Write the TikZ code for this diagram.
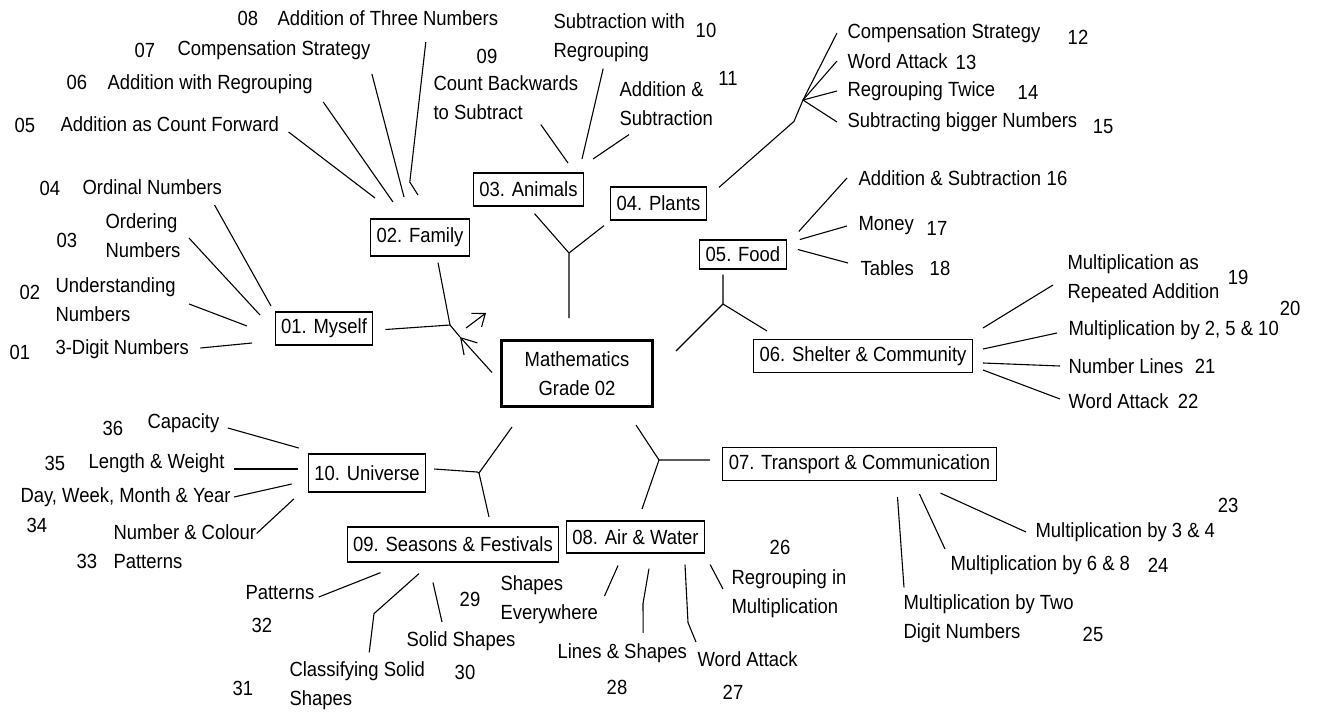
\documentclass[tikz,border=0pt]{standalone}
\usepackage{fontspec}
\setmainfont{Liberation Sans}[FakeStretch=0.9]
\usetikzlibrary{arrows.meta}

\begin{document}
\begin{tikzpicture}[x=1pt,y=-1pt,line width=1.1pt,
  every node/.style={font=\fontsize{20.5}{29}\selectfont},
  topic/.style={draw,line width=1.2pt,inner xsep=6pt,inner ysep=0pt,minimum height=33pt},
  leaf/.style={anchor=west,inner sep=0pt,align=left},
  num/.style={inner sep=0pt},
  barb/.style={-{Straight Barb[length=15pt,width=18pt]}}]
\useasboundingbox (0,0) rectangle (1318,713);

% centre and topics
\node[draw,line width=3pt,minimum width=151pt,minimum height=66pt,align=center] (math) at (577,373.5) {Mathematics\\Grade 02};
\node[topic] (m01) at (324,328.5) {01. Myself};
\node[topic,minimum height=37pt] (m02) at (420,237.5) {02. Family};
\node[topic] (m03) at (528.5,189.5) {03. Animals};
\node[topic] (m04) at (658.5,203.5) {04. Plants};
\node[topic,minimum height=29pt] (m05) at (743,254.5) {05. Food};
\node[topic] (m06) at (863,356) {06. Shelter \& Community};
\node[topic] (m07) at (859.5,464) {07. Transport \& Communication};
\node[topic,minimum height=32pt] (m08) at (635.5,537) {08. Air \& Water};
\node[topic,minimum height=35pt] (m09) at (453,544.5) {09. Seasons \& Festivals};
\node[topic,minimum height=38pt] (m10) at (367,473) {10. Universe};

% junctions
\coordinate (jfam) at (450,325);
\coordinate (jtip) at (460,337);
\coordinate (janim) at (569,253);
\coordinate (jplant) at (803,100);
\coordinate (jfood) at (723,304);
\coordinate (jtrans) at (659,460);
\coordinate (juni) at (479,473);

\draw (m01.east) ++(12,1) -- (jfam) -- (jtip);
\draw (m02.south) ++(18,6) -- (jfam);
\draw[barb] (math.west) ++(-8,-1) -- (jtip);
\draw[-{Straight Barb[length=11pt,width=17pt]}] (jfam) ++(16,3) -- ++(20,-15);
\draw (m03.south) ++(6,7) -- (janim) -- ++(0,65);
\draw (m04.south west) ++(-6,5) -- (janim);
\draw (m04.north east) ++(12,1) -- ++(75,-66) -- (jplant);
\draw (m05.south) ++(-20,5) -- (jfood) -- ++(-47,47);
\draw (jfood) -- ++(44,27);
\draw (math.south east) ++(-18,17) -- (jtrans) -- ++(51,0);
\draw (jtrans) -- ++(-17,49);
\draw (m10.east) ++(8,-4) -- ++(43,3) -- (juni) -- ++(33,-46);
\draw (juni) -- ++(10,44);

% 01. Myself
\node[num] (n01) at (20,352) {01};
\node[leaf] (t01) at (55,349) {3-Digit Numbers};
\node[num] (n02) at (30,292) {02};
\node[leaf] (t02) at (55,300) {Understanding\\Numbers};
\node[num] (n03) at (67,240) {03};
\node[leaf] (t03) at (105,236) {Ordering\\Numbers};
\node[num] (n04) at (50,188) {04};
\node[leaf] (t04) at (82,187) {Ordinal Numbers};
\coordinate (h01) at (252,343);
\coordinate (h02) at (247,326);
\coordinate (h03) at (260,315);
\coordinate (h04) at (271,306);
\draw (t01.east) ++(11,-1) -- (h01);
\draw (t02.east) ++(13,4) -- (h02);
\draw (t03.east) ++(8,2) -- (h03);
\draw (t04.east) ++(-8,18) -- (h04);

% 02. Family
\node[num] (n05) at (25,125) {05};
\node[leaf] (t05) at (60,124) {Addition as Count Forward};
\node[num] (n06) at (77,82) {06};
\node[leaf] (t06) at (107,84) {Addition with Regrouping};
\node[num] (n07) at (145,50) {07};
\node[leaf] (t07) at (177,50) {Compensation Strategy};
\node[num] (n08) at (248,18) {08};
\node[leaf] (t08) at (277,18) {Addition of Three Numbers};
\coordinate (h05) at (375,198);
\coordinate (h06) at (393,202);
\coordinate (h07) at (404,197);
\coordinate (h08) at (418,195);
\draw (t05.east) ++(9,8) -- (h05);
\draw (t06.east) ++(10,18) -- (h06);
\draw (t07.east) ++(1,24) -- (h07);
\draw (t08.south) ++(38,16) -- ++(-16,140) -- (h08);

% 03. Animals
\node[num] (n09) at (487,56) {09};
\node[leaf] (t09) at (433,98) {Count Backwards\\to Subtract};
\node[num] (n10) at (706,30) {10};
\node[leaf] (t10) at (553,38) {Subtraction with\\Regrouping};
\node[num] (n11) at (728,78) {11};
\node[leaf] (t11) at (619,104) {Addition \&\\Subtraction};
\coordinate (h09) at (568,163);
\coordinate (h10) at (582,159);
\coordinate (h11) at (593,159);
\draw (t09.south) ++(35,4) -- (h09);
\draw (t10.south) ++(-16,6) -- (h10);
\draw (t11.south west) ++(10,8) -- (h11);

% 04. Plants
\node[leaf] (t12) at (847,33) {Compensation Strategy};
\node[num] (n12) at (1078,37) {12};
\node[leaf] (t13) at (847,61) {Word Attack};
\node[num] (n13) at (966,62) {13};
\node[leaf] (t14) at (847,91) {Regrouping Twice};
\node[num] (n14) at (1028,92) {14};
\node[leaf] (t15) at (847,122) {Subtracting bigger Numbers};
\node[num] (n15) at (1103,127) {15};
\foreach \t in {t12,t13,t14,t15}
  \draw (jplant) -- ([xshift=-10pt]\t.west);

% 05. Food
\node[leaf] (t16) at (858,178) {Addition \& Subtraction};
\node[num] (n16) at (1057,178) {16};
\node[leaf] (t17) at (858,226) {Money};
\node[num] (n17) at (937,228) {17};
\node[leaf] (t18) at (860,268) {Tables};
\node[num] (n18) at (940,268) {18};
\draw (m05.north east) ++(12,-8) -- ([xshift=-11pt]t16.west);
\draw (m05.east) ++(13,-15) -- ([xshift=-11pt]t17.west);
\draw (m05.east) ++(11,-5) -- ([shift={(-12,-5)}]t18.west);

% 06. Shelter & Community
\node[leaf] (t19) at (1067,279) {Multiplication as\\Repeated Addition};
\node[num] (n19) at (1238,277) {19};
\node[leaf] (t20) at (1068,330) {Multiplication by 2, 5 \& 10};
\node[num] (n20) at (1290,308) {20};
\node[leaf] (t21) at (1068,366) {Number Lines};
\node[num] (n21) at (1205,366) {21};
\node[leaf] (t22) at (1068,401) {Word Attack};
\node[num] (n22) at (1188,401) {22};
\draw (m06.east) ++(10,-28) -- ([shift={(-14,6)}]t19.west);
\draw (m06.east) ++(10,-7) -- ([shift={(-11,3)}]t20.west);
\draw (m06.east) ++(10,7) -- ([xshift=-8pt]t21.west);
\draw (m06.east) ++(10,14) -- ([shift={(-8,-2)}]t22.west);

% 07. Transport & Communication
\node[leaf] (t23) at (1035,532) {Multiplication by 3 \& 4};
\node[num] (n23) at (1228,505) {23};
\node[leaf] (t24) at (950,565) {Multiplication by 6 \& 8};
\node[num] (n24) at (1158,565) {24};
\node[leaf] (t25) at (903,619) {Multiplication by Two\\Digit Numbers};
\node[num] (n25) at (1093,634) {25};
\draw (m07.south) ++(81,12) -- ([xshift=-9pt]t23.west);
\draw (m07.south) ++(60,13) -- ([shift={(-5,-16)}]t24.west);
\draw (m07.south) ++(38,16) -- ([shift={(1,-7)}]t25.north west);

% 08. Air & Water
\node[num] (n26) at (780,547) {26};
\node[leaf] (t26) at (731,594) {Regrouping in\\Multiplication};
\node[leaf] (t27) at (697,659) {Word Attack};
\node[num] (n27) at (733,692) {27};
\node[leaf] (t28) at (557,653) {Lines \& Shapes};
\node[num] (n28) at (617,687) {28};
\node[num] (n29) at (470,599) {29};
\node[leaf] (t29) at (500,600) {Shapes\\Everywhere};
\draw (m08.south east) ++(5,11) -- ([shift={(-8,-5)}]t26.west);
\draw (m08.south) ++(49.5,11) -- ++(3,58) -- ([shift={(-1,-17)}]t27.west);
\draw (m08.south) ++(13.5,15) -- ++(-6,35) -- ([shift={(21,-10)}]t28.north);
\draw (m08.south) ++(-17.5,12) -- ([shift={(6,-4)}]t29.east);

% 09. Seasons & Festivals
\node[leaf] (t30) at (406,641) {Solid Shapes};
\node[num] (n30) at (465,672) {30};
\node[num] (n31) at (243,688) {31};
\node[leaf] (t31) at (289,686) {Classifying Solid\\Shapes};
\node[leaf] (t32) at (245,593) {Patterns};
\node[num] (n32) at (262,625) {32};
\draw (m09.south) ++(-20,20) -- ([shift={(36,-19)}]t30.west);
\draw (m09.south) ++(-34,11) -- ++(-45,40) -- ([shift={(12,-9)}]t31.north);
\draw (t32.east) ++(4,4) -- ([shift={(34,10)}]m09.south west);

% 10. Universe
\node[num] (n33) at (87,561) {33};
\node[leaf] (t33) at (113,547) {Number \& Colour\\Patterns};
\node[num] (n34) at (37,525) {34};
\node[leaf] (t34) at (20,497) {Day, Week, Month \& Year};
\node[num] (n35) at (55,463) {35};
\node[leaf] (t35) at (88,463) {Length \& Weight};
\node[num] (n36) at (113,428) {36};
\node[leaf] (t36) at (147,423) {Capacity};
\draw (t36.east) ++(8,5) -- ([shift={(-9,-25)}]m10.west);
\draw (t35.east) ++(9,6) -- ([shift={(-10,-4)}]m10.west);
\draw (t34.east) ++(3,0) -- ([shift={(-16,11)}]m10.west);
\draw (t33.north east) ++(0,9) -- ([shift={(-14,26)}]m10.west);
\end{tikzpicture}
\end{document}
